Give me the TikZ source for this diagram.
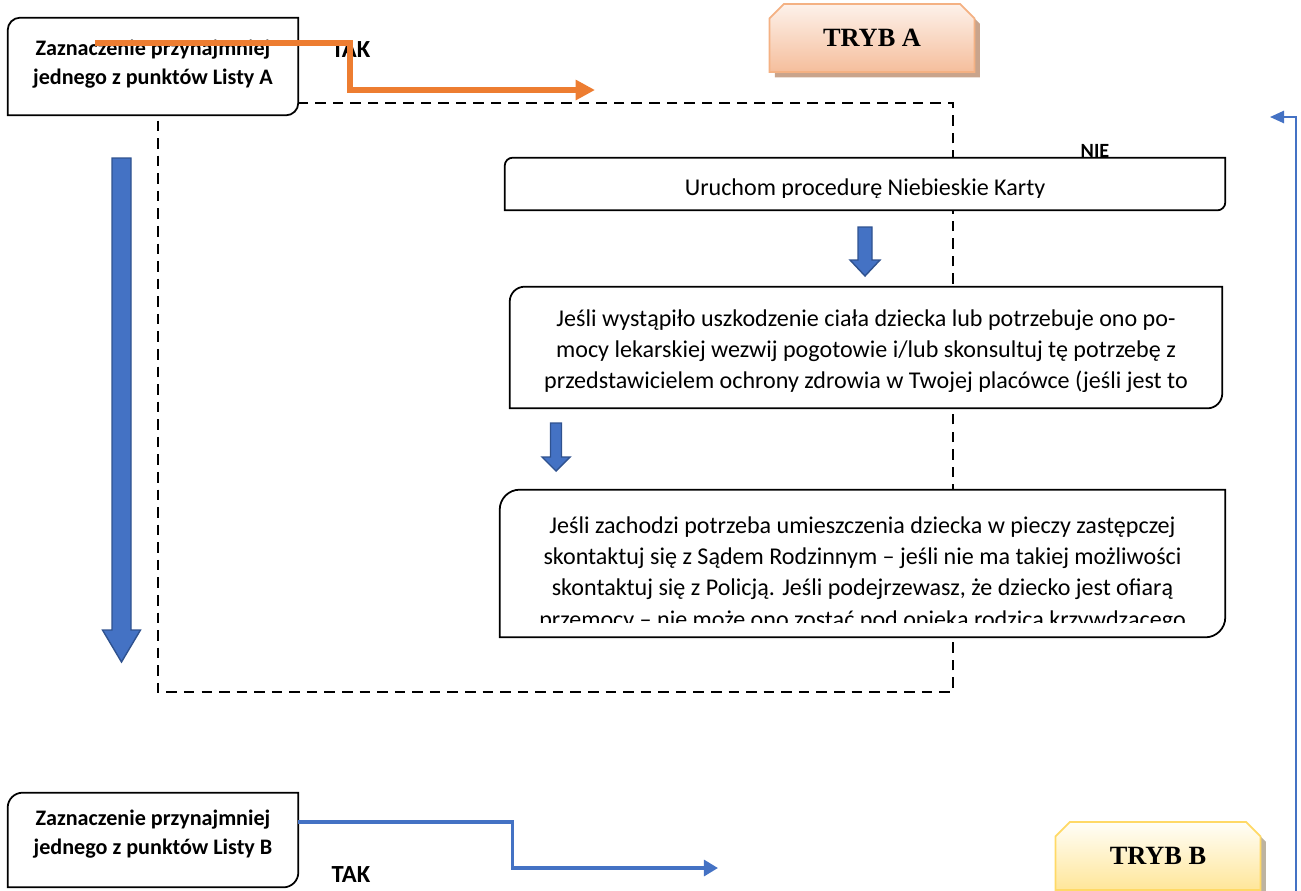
\documentclass[tikz,border=0pt]{standalone}
\usepackage{fontspec}
\setmainfont{Carlito}
\newfontfamily\trybfont{Liberation Serif}
\usetikzlibrary{arrows.meta,shapes.misc,shadows,positioning}

\definecolor{orangeline}{HTML}{ED7D31}
\definecolor{blueline}{HTML}{4472C4}
\definecolor{bluedark}{HTML}{2F528F}
\definecolor{peachtop}{HTML}{FDF1EA}
\definecolor{peachbot}{HTML}{F5BE9C}
\definecolor{peachedge}{HTML}{F4B183}
\definecolor{peachshade}{HTML}{C9A48C}
\definecolor{yellowtop}{HTML}{FFFEF8}
\definecolor{yellowbot}{HTML}{FFE699}
\definecolor{yellowedge}{HTML}{FFD966}
\definecolor{yellowshade}{HTML}{BDB3A0}

\tikzset{
  flowtext/.style={font=\fontsize{13.7}{17.9}\selectfont, align=center, inner sep=0pt},
  listtext/.style={font=\bfseries\fontsize{12.6}{16}\selectfont, align=center, inner sep=0pt},
  answer/.style={font=\bfseries\fontsize{14}{16}\selectfont, inner sep=0pt},
  trybbox/.style={chamfered rectangle, chamfered rectangle corners={north west,north east},
    chamfered rectangle xsep=5pt, minimum width=4.1cm, minimum height=1.36cm,
    font=\trybfont\bfseries\fontsize{15}{18}\selectfont, line width=1pt},
  dashframe/.style={dash pattern=on 6pt off 4pt, line width=1pt},
  boxedge/.style={line width=1pt, fill=white},
  blockarrow/.style={fill=blueline, draw=bluedark, line width=0.8pt},
}

% box with rounded top-left and bottom-right corners
\newcommand\cutbox[2]{%
  \filldraw[boxedge] (#1.south west) -- ([yshift=-#2]#1.north west)
    arc[start angle=180, end angle=90, radius=#2] -- (#1.north east)
    -- ([yshift=#2]#1.south east) arc[start angle=0, end angle=-90, radius=#2] -- cycle;}

% thick blue arrow pointing down: x, top, head base, tip, shaft half, head half
\newcommand\blockdown[6]{%
  \filldraw[blockarrow] ({#1-#5},#2) -- ({#1+#5},#2) -- ({#1+#5},#3) -- ({#1+#6},#3)
    -- (#1,#4) -- ({#1-#6},#3) -- ({#1-#5},#3) -- cycle;}

\begin{document}
\begin{tikzpicture}[x=0.02cm, y=-0.02cm]
    \useasboundingbox (0,0) rectangle (1301,890);

    % frame of TRYB A
    \draw[dashframe] (158,103) rectangle (953,692);

    % tryb labels
    \begin{scope}[every node/.style={trybbox}]
        \node[draw=peachedge, top color=peachtop, bottom color=peachbot,
              drop shadow={shadow xshift=3pt, shadow yshift=-3pt, fill=peachshade, opacity=1}]
              (trybA) at (872,38) {TRYB A};
        \node[draw=yellowedge, top color=yellowtop, bottom color=yellowbot,
              drop shadow={shadow xshift=3pt, shadow yshift=-3pt, fill=yellowshade, opacity=1}]
              (trybB) at (1158,856) {TRYB B};
    \end{scope}

    % lists
    \node[minimum width=5.8cm, minimum height=1.94cm, inner sep=0pt] (listA) at (153,66.5) {};
    \cutbox{listA}{0.25cm}
    \node[listtext, anchor=north] (listAtext) at (listA.north |- 0,40) {Zaznaczenie przynajmniej\\jednego z punktów Listy A};

    \node[minimum width=5.8cm, minimum height=1.88cm, inner sep=0pt] (listB) at (153,840) {};
    \cutbox{listB}{0.3cm}
    \node[listtext, anchor=north] (listBtext) at (listB.north |- 0,810) {Zaznaczenie przynajmniej\\jednego z punktów Listy B};

    \node[answer] (takA) at (351,50) {TAK};
    \node[answer] (takB) at (351,875) {TAK};
    \node[answer, font=\bfseries\fontsize{11.5}{13}\selectfont, anchor=base] (nie) at (1095,157) {NIE};

    % steps
    \node[minimum width=14.4cm, minimum height=1.04cm, inner sep=0pt] (uruchom) at (865,184) {};
    \cutbox{uruchom}{0.16cm}
    \begin{scope}
        \clip (uruchom.north west) rectangle (uruchom.east |- 0,197);
        \node[flowtext, anchor=north] (uruchomtext) at (uruchom.north |- 0,178) {Uruchom procedurę Niebieskie Karty};
    \end{scope}

    \node[minimum width=14.24cm, minimum height=2.42cm, inner sep=0pt] (pogotowie) at (866,347.5) {};
    \cutbox{pogotowie}{0.3cm}
    \begin{scope}
        \clip (pogotowie.north west) rectangle (pogotowie.east |- 0,391);
        \node[flowtext, anchor=north] (pogotowietext) at (pogotowie.north |- 0,309) {Jeśli wystąpiło uszkodzenie ciała dziecka lub potrzebuje ono po-\\mocy lekarskiej wezwij pogotowie i/lub skonsultuj tę potrzebę z\\przedstawicielem ochrony zdrowia w Twojej placówce (jeśli jest to};
    \end{scope}

    \node[minimum width=14.5cm, minimum height=2.94cm, inner sep=0pt] (sad) at (862.5,563.5) {};
    \cutbox{sad}{0.4cm}
    \begin{scope}
        \clip (sad.north west) rectangle (sad.east |- 0,622);
        \node[flowtext, anchor=north] (sadtext) at (sad.north |- 0,516) {Jeśli zachodzi potrzeba umieszczenia dziecka w pieczy zastępczej\\skontaktuj się z Sądem Rodzinnym – jeśli nie ma takiej możliwości\\skontaktuj się z Policją. Jeśli podejrzewasz, że dziecko jest ofiarą\\przemocy – nie może ono zostać pod opieką rodzica krzywdzącego};
    \end{scope}

    % block arrows
    \blockdown{121.5}{158}{630}{662}{9.5}{19}
    \blockdown{865}{227}{260}{276}{7}{15}
    \blockdown{556}{423}{457}{471}{5.5}{14}

    % connectors
    \coordinate (orangestart) at (95,43);
    \coordinate (orangeend) at (595,90);
    \coordinate (blueend) at (718,868);
    \coordinate (loopfoot) at (1296,895);
    \coordinate (looptip) at (1270,117);
    \draw[orangeline, line width=3pt, -{Triangle[length=11pt,width=11pt]}]
        (orangestart) -- ++(255,0) |- (orangeend);
    \draw[blueline, line width=2pt, -{Triangle[length=8pt,width=9pt]}]
        (listB.east |- 0,822) -- ++(214,0) |- (blueend);
    \draw[blueline, line width=1.1pt, -{Triangle[length=8pt,width=7pt]}]
        (loopfoot) |- (looptip);
\end{tikzpicture}
\end{document}
